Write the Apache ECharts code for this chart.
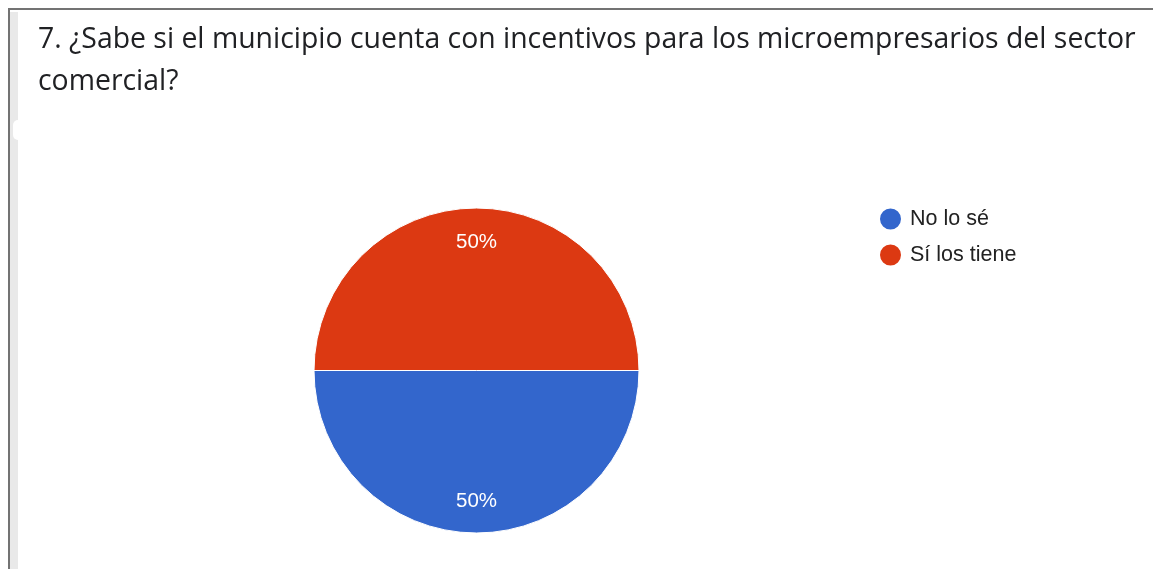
<!DOCTYPE html>
<html>
<head>
<meta charset="utf-8">
<script src="https://cdn.jsdelivr.net/npm/echarts@6/dist/echarts.min.js"></script>
<style>
html,body{margin:0;padding:0;background:#fff;}
#chart{width:1153px;height:569px;}
</style>
</head>
<body>
<div id="chart"></div>
<script>
const titleText = '7. ¿Sabe si el municipio cuenta con incentivos para los microempresarios del sector\ncomercial?';
const categories = ['No lo sé', 'Sí los tiene'];
const values = [50, 50];
const colors = ['#3366CC', '#DC3912'];
const labelOffsets = [[0, -1], [0, 4]];

const chart = echarts.init(document.getElementById('chart'), null, {renderer: 'canvas'});
const data = categories.map((c, i) => ({name: c, value: values[i], itemStyle: {color: colors[i]}}));

chart.setOption({
  animation: false,
  backgroundColor: '#ffffff',
  title: {
    text: titleText,
    left: 33,
    top: 14,
    textStyle: {
      fontFamily: 'Open Sans',
      fontSize: 28.4,
      fontWeight: 'normal',
      color: '#202124',
      lineHeight: 42
    }
  },
  legend: {
    data: categories,
    orient: 'vertical',
    left: 873,
    top: 201.5,
    icon: 'circle',
    itemWidth: 23,
    itemHeight: 23,
    itemGap: 11,
    textStyle: {fontFamily: 'Arial, Liberation Sans', fontSize: 21.5, lineHeight: 23, color: '#222222', padding: [0, 0, 0, 3]}
  },
  graphic: [
    {type: 'rect', shape: {x: 10, y: 12, width: 8, height: 560}, style: {fill: '#e9e9e9'}, silent: true},
    {type: 'rect', shape: {x: 13, y: 120, width: 10, height: 20, r: 10}, style: {fill: '#ffffff'}, silent: true},
    {type: 'rect', shape: {x: 8, y: 8, width: 1145, height: 2}, style: {fill: '#737373'}, silent: true},
    {type: 'rect', shape: {x: 8, y: 8, width: 2, height: 561}, style: {fill: '#737373'}, silent: true}
  ],
  series: [
    {
      type: 'pie',
      center: [476.5, 370.5],
      radius: [0, 162.5],
      startAngle: 0,
      clockwise: true,
      data: data,
      label: {show: false},
      labelLine: {show: false},
      itemStyle: {borderColor: '#ffffff', borderWidth: 1},
      emphasis: {disabled: true}
    },
    {
      type: 'pie',
      center: [476.5, 370.5],
      radius: [102, 156],
      startAngle: 0,
      clockwise: true,
      silent: true,
      legendHoverLink: false,
      data: categories.map((c, i) => ({
        name: c, value: values[i],
        itemStyle: {color: 'rgba(0,0,0,0)'},
        label: {offset: labelOffsets[i]}
      })),
      label: {
        show: true,
        position: 'inside',
        formatter: p => Math.round(p.percent) + '%',
        color: '#ffffff',
        fontFamily: 'Arial, Liberation Sans',
        fontSize: 20.5
      },
      labelLine: {show: false},
      emphasis: {disabled: true}
    }
  ]
});
</script>
</body>
</html>
